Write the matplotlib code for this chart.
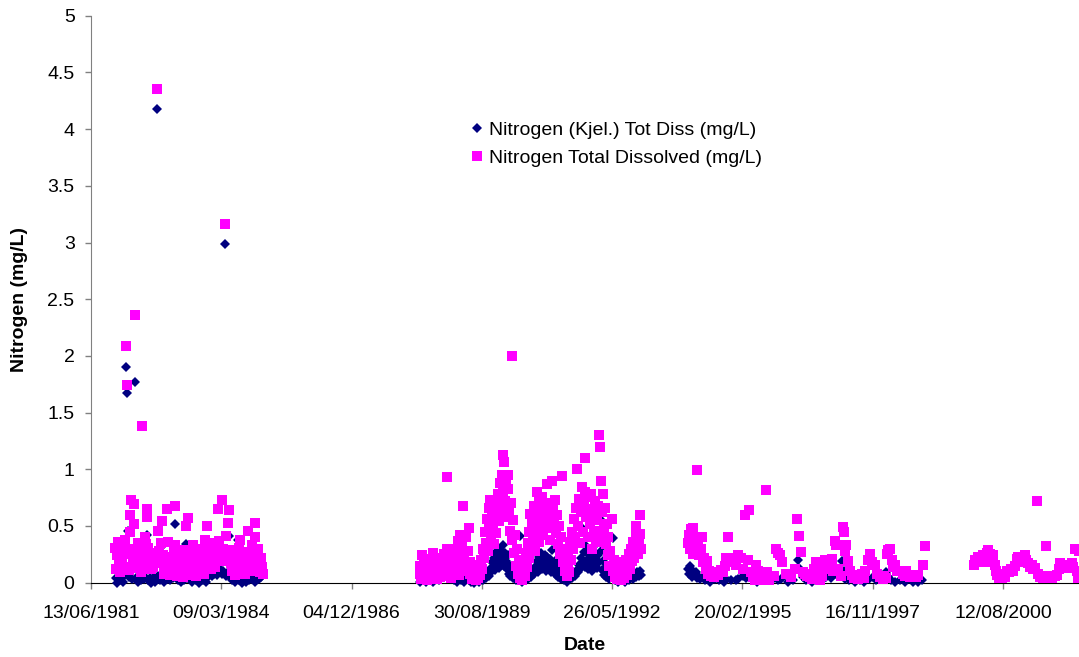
import numpy as np
import pandas as pd
import matplotlib
matplotlib.use('Agg')
import matplotlib.pyplot as plt

# samples as (decimal year, mg/L)
kjel_8185 = [
    (1981.97, 0.04), (1982.00, 0.00), (1982.03, 0.06), (1982.06, 0.02), (1982.09, 0.04), (1982.12, 0.01),
    (1982.15, 0.07), (1982.18, 1.90), (1982.20, 1.67), (1982.22, 0.46), (1982.25, 0.05), (1982.28, 0.12), (1982.31, 0.03), (1982.34, 0.25), (1982.37, 1.77), (1982.40, 0.04),
    (1982.43, 0.01), (1982.46, 0.06), (1982.49, 0.02), (1982.52, 0.09), (1982.55, 0.03), (1982.58, 0.05), (1982.62, 0.42), (1982.65, 0.02), (1982.68, 0.04), (1982.71, 0.00),
    (1982.74, 0.03), (1982.77, 0.05), (1982.80, 0.01), (1982.83, 4.18), (1982.86, 0.06), (1982.89, 0.02), (1982.92, 0.04), (1982.95, 0.33), (1982.98, 0.01), (1983.01, 0.07),
    (1983.04, 0.03), (1983.07, 0.05), (1983.10, 0.02), (1983.13, 0.08), (1983.16, 0.04), (1983.19, 0.10), (1983.21, 0.52), (1983.24, 0.05), (1983.27, 0.02), (1983.30, 0.04),
    (1983.33, 0.01), (1983.36, 0.03), (1983.39, 0.06), (1983.41, 0.02), (1983.44, 0.34), (1983.47, 0.04), (1983.50, 0.07), (1983.53, 0.03), (1983.56, 0.01), (1983.59, 0.30),
    (1983.62, 0.05), (1983.65, 0.02), (1983.68, 0.04), (1983.71, 0.00), (1983.74, 0.03), (1983.77, 0.06), (1983.80, 0.02), (1983.83, 0.05), (1983.86, 0.01), (1983.89, 0.04),
    (1983.92, 0.07), (1983.95, 0.09), (1983.98, 0.06), (1984.01, 0.10), (1984.04, 0.08), (1984.07, 0.11), (1984.10, 0.07), (1984.13, 0.09), (1984.16, 0.12), (1984.19, 0.08),
    (1984.22, 0.10), (1984.26, 2.99), (1984.28, 0.06), (1984.32, 0.09), (1984.35, 0.41), (1984.38, 0.04), (1984.41, 0.02), (1984.44, 0.05), (1984.47, 0.01), (1984.50, 0.03),
    (1984.53, 0.38), (1984.56, 0.02), (1984.59, 0.04), (1984.62, 0.00), (1984.65, 0.03), (1984.68, 0.05), (1984.71, 0.01), (1984.74, 0.04), (1984.77, 0.02), (1984.80, 0.06),
    (1984.83, 0.03), (1984.86, 0.05), (1984.89, 0.01), (1984.92, 0.04), (1984.95, 0.07), (1984.98, 0.03), (1985.01, 0.05), (1985.04, 0.08),
]

kjel_8893 = [
    (1988.36, 0.01), (1988.39, 0.04), (1988.42, 0.02), (1988.45, 0.06), (1988.48, 0.01), (1988.51, 0.03), (1988.54, 0.05), (1988.57, 0.02),
    (1988.60, 0.04), (1988.63, 0.01), (1988.66, 0.06), (1988.69, 0.03), (1988.72, 0.05), (1988.75, 0.02), (1988.78, 0.04), (1988.81, 0.07), (1988.84, 0.09), (1988.87, 0.06),
    (1988.90, 0.10), (1988.93, 0.08), (1988.96, 0.05), (1988.99, 0.07), (1989.02, 0.03), (1989.05, 0.05), (1989.08, 0.02), (1989.11, 0.04), (1989.14, 0.01), (1989.17, 0.03),
    (1989.20, 0.05), (1989.23, 0.02), (1989.26, 0.04), (1989.29, 0.01), (1989.32, 0.03), (1989.35, 0.05), (1989.38, 0.02), (1989.41, 0.04), (1989.44, 0.01), (1989.47, 0.03),
    (1989.50, 0.00), (1989.53, 0.02), (1989.56, 0.04), (1989.59, 0.01), (1989.62, 0.03), (1989.65, 0.05), (1989.68, 0.02), (1989.71, 0.06), (1989.74, 0.04), (1989.77, 0.08),
    (1989.80, 0.06), (1989.83, 0.12), (1989.85, 0.09), (1989.87, 0.18), (1989.89, 0.14), (1989.91, 0.22), (1989.93, 0.11), (1989.95, 0.27), (1989.97, 0.16), (1989.99, 0.20),
    (1990.01, 0.25), (1990.03, 0.13), (1990.05, 0.30), (1990.07, 0.18), (1990.09, 0.22), (1990.11, 0.33), (1990.12, 0.15), (1990.14, 0.26), (1990.16, 0.19), (1990.18, 0.12),
    (1990.20, 0.24), (1990.22, 0.08), (1990.24, 0.16), (1990.26, 0.06), (1990.28, 0.11), (1990.31, 0.04), (1990.34, 0.07), (1990.37, 0.02), (1990.40, 0.05), (1990.43, 0.03),
    (1990.46, 0.41), (1990.48, 0.06), (1990.51, 0.01), (1990.54, 0.04), (1990.57, 0.02), (1990.60, 0.05), (1990.63, 0.03), (1990.66, 0.07), (1990.69, 0.05), (1990.72, 0.10),
    (1990.75, 0.08), (1990.77, 0.14), (1990.79, 0.11), (1990.81, 0.19), (1990.83, 0.09), (1990.85, 0.23), (1990.87, 0.13), (1990.89, 0.17), (1990.91, 0.26), (1990.93, 0.12),
    (1990.95, 0.20), (1990.97, 0.15), (1990.99, 0.24), (1991.01, 0.10), (1991.03, 0.23), (1991.05, 0.18), (1991.07, 0.13), (1991.09, 0.21), (1991.11, 0.09), (1991.13, 0.29),
    (1991.15, 0.16), (1991.17, 0.11), (1991.19, 0.19), (1991.21, 0.07), (1991.23, 0.14), (1991.26, 0.05), (1991.29, 0.09), (1991.32, 0.03), (1991.35, 0.06), (1991.38, 0.02),
    (1991.41, 0.04), (1991.44, 0.01), (1991.47, 0.05), (1991.50, 0.03), (1991.53, 0.06), (1991.56, 0.04), (1991.59, 0.08), (1991.62, 0.06), (1991.65, 0.11), (1991.68, 0.09),
    (1991.70, 0.16), (1991.72, 0.12), (1991.74, 0.22), (1991.76, 0.48), (1991.78, 0.18), (1991.80, 0.27), (1991.82, 0.14), (1991.84, 0.32), (1991.86, 0.20), (1991.88, 0.25),
    (1991.90, 0.12), (1991.92, 0.29), (1991.94, 0.17), (1991.96, 0.22), (1991.98, 0.10), (1992.00, 0.26), (1992.02, 0.15), (1992.04, 0.20), (1992.06, 0.34), (1992.08, 0.13),
    (1992.10, 0.24), (1992.12, 0.18), (1992.14, 0.56), (1992.16, 0.28), (1992.18, 0.11), (1992.20, 0.19), (1992.22, 0.07), (1992.24, 0.13), (1992.27, 0.05), (1992.30, 0.09),
    (1992.33, 0.03), (1992.36, 0.06), (1992.42, 0.39), (1992.45, 0.02), (1992.48, 0.04), (1992.51, 0.01), (1992.54, 0.03), (1992.57, 0.05), (1992.60, 0.02), (1992.63, 0.04),
    (1992.66, 0.01), (1992.69, 0.03), (1992.72, 0.05), (1992.75, 0.02), (1992.78, 0.04), (1992.81, 0.06), (1992.84, 0.03), (1992.87, 0.07), (1992.90, 0.05), (1992.93, 0.09),
    (1992.96, 0.06), (1992.99, 0.10), (1993.01, 0.07),
]

kjel_9498 = [
    (1994.00, 0.12), (1994.02, 0.08), (1994.04, 0.15), (1994.06, 0.10), (1994.08, 0.05), (1994.10, 0.10), (1994.12, 0.07), (1994.15, 0.09), (1994.18, 0.04), (1994.21, 0.06),
    (1994.25, 0.03), (1994.30, 0.05), (1994.35, 0.02), (1994.40, 0.04), (1994.45, 0.01), (1994.55, 0.03), (1994.65, 0.02), (1994.75, 0.01), (1994.80, 0.03), (1994.90, 0.02),
    (1995.00, 0.02), (1995.05, 0.03), (1995.15, 0.06), (1995.22, 0.04), (1995.26, 0.20), (1995.35, 0.06), (1995.45, 0.01), (1995.55, 0.02), (1995.62, 0.04), (1995.75, 0.02),
    (1995.89, 0.02), (1995.95, 0.03), (1996.10, 0.01), (1996.20, 0.02), (1996.31, 0.20), (1996.33, 0.13), (1996.40, 0.05), (1996.48, 0.02), (1996.60, 0.01), (1996.70, 0.03),
    (1996.80, 0.02), (1996.90, 0.05), (1997.00, 0.04), (1997.08, 0.14), (1997.15, 0.06), (1997.22, 0.19), (1997.26, 0.10), (1997.30, 0.03), (1997.38, 0.02), (1997.50, 0.01),
    (1997.60, 0.02), (1997.70, 0.01), (1997.80, 0.03), (1997.88, 0.05), (1997.95, 0.02), (1998.05, 0.03), (1998.16, 0.09), (1998.20, 0.05), (1998.25, 0.02), (1998.35, 0.01),
    (1998.45, 0.02), (1998.55, 0.01), (1998.72, 0.01), (1998.83, 0.01), (1998.90, 0.02),
]

tdn_8185 = [
    (1981.95, 0.31), (1981.97, 0.12), (1981.99, 0.24), (1982.02, 0.36), (1982.04, 0.17),
    (1982.06, 0.09), (1982.08, 0.28), (1982.10, 0.20), (1982.12, 0.14), (1982.14, 0.33), (1982.16, 0.38), (1982.18, 2.09), (1982.20, 1.74), (1982.22, 0.25), (1982.24, 0.11),
    (1982.26, 0.45), (1982.27, 0.60), (1982.28, 0.73), (1982.30, 0.30), (1982.32, 0.18), (1982.34, 0.52), (1982.36, 0.69), (1982.37, 2.36), (1982.39, 0.21), (1982.41, 0.13),
    (1982.43, 0.35), (1982.45, 0.26), (1982.47, 0.16), (1982.49, 0.09), (1982.52, 1.38), (1982.54, 0.20), (1982.56, 0.29), (1982.58, 0.40), (1982.60, 0.34), (1982.62, 0.65),
    (1982.63, 0.58), (1982.65, 0.31), (1982.67, 0.22), (1982.69, 0.15), (1982.71, 0.12), (1982.73, 0.19), (1982.75, 0.14), (1982.77, 0.26), (1982.79, 0.17), (1982.81, 0.21),
    (1982.83, 4.35), (1982.85, 0.46), (1982.87, 0.28), (1982.89, 0.18), (1982.91, 0.35), (1982.93, 0.54), (1982.95, 0.24), (1982.97, 0.13), (1982.99, 0.08), (1983.01, 0.20),
    (1983.04, 0.65), (1983.06, 0.36), (1983.08, 0.17), (1983.10, 0.07), (1983.12, 0.23), (1983.14, 0.14), (1983.16, 0.09), (1983.18, 0.30), (1983.21, 0.68), (1983.22, 0.33),
    (1983.24, 0.18), (1983.26, 0.06), (1983.28, 0.11), (1983.30, 0.25), (1983.32, 0.08), (1983.35, 0.16), (1983.37, 0.05), (1983.39, 0.22), (1983.42, 0.29), (1983.44, 0.50),
    (1983.46, 0.21), (1983.49, 0.57), (1983.51, 0.27), (1983.53, 0.12), (1983.55, 0.07), (1983.57, 0.19), (1983.59, 0.33), (1983.61, 0.24), (1983.63, 0.10), (1983.66, 0.06),
    (1983.68, 0.15), (1983.70, 0.26), (1983.72, 0.09), (1983.74, 0.18), (1983.76, 0.30), (1983.78, 0.13), (1983.80, 0.22), (1983.82, 0.08), (1983.84, 0.38), (1983.86, 0.27),
    (1983.88, 0.50), (1983.90, 0.16), (1983.92, 0.31), (1983.94, 0.20), (1983.96, 0.12), (1983.98, 0.25), (1984.00, 0.35), (1984.02, 0.18), (1984.04, 0.28), (1984.06, 0.14),
    (1984.08, 0.32), (1984.10, 0.22), (1984.12, 0.65), (1984.14, 0.37), (1984.16, 0.26), (1984.19, 0.73), (1984.21, 0.30), (1984.23, 0.19), (1984.26, 3.16), (1984.28, 0.41),
    (1984.30, 0.24), (1984.33, 0.53), (1984.35, 0.64), (1984.37, 0.29), (1984.39, 0.17), (1984.41, 0.10), (1984.43, 0.21), (1984.45, 0.13), (1984.47, 0.07), (1984.49, 0.18),
    (1984.51, 0.26), (1984.53, 0.11), (1984.55, 0.31), (1984.58, 0.38), (1984.60, 0.20), (1984.62, 0.09), (1984.64, 0.15), (1984.66, 0.23), (1984.68, 0.08), (1984.70, 0.12),
    (1984.72, 0.27), (1984.75, 0.46), (1984.77, 0.19), (1984.79, 0.10), (1984.81, 0.24), (1984.83, 0.33), (1984.85, 0.16), (1984.87, 0.28), (1984.89, 0.53), (1984.90, 0.40),
    (1984.92, 0.21), (1984.94, 0.12), (1984.96, 0.30), (1984.98, 0.17), (1985.00, 0.09), (1985.02, 0.22), (1985.04, 0.14), (1985.06, 0.08),
]

tdn_8893 = [
    (1988.35, 0.08), (1988.37, 0.15), (1988.39, 0.03), (1988.41, 0.24), (1988.43, 0.10), (1988.45, 0.18), (1988.47, 0.06),
    (1988.49, 0.13), (1988.51, 0.02), (1988.53, 0.21), (1988.55, 0.09), (1988.57, 0.16), (1988.59, 0.04), (1988.61, 0.11), (1988.63, 0.26), (1988.65, 0.07), (1988.67, 0.19),
    (1988.69, 0.14), (1988.71, 0.03), (1988.73, 0.22), (1988.75, 0.10), (1988.77, 0.17), (1988.79, 0.05), (1988.81, 0.12), (1988.83, 0.20), (1988.85, 0.08), (1988.87, 0.25),
    (1988.89, 0.15), (1988.92, 0.93), (1988.93, 0.30), (1988.95, 0.06), (1988.97, 0.18), (1988.99, 0.11), (1989.01, 0.04), (1989.03, 0.14), (1989.05, 0.23), (1989.07, 0.09),
    (1989.09, 0.19), (1989.11, 0.30), (1989.13, 0.12), (1989.15, 0.37), (1989.17, 0.07), (1989.19, 0.26), (1989.21, 0.42), (1989.23, 0.16), (1989.25, 0.32), (1989.27, 0.68),
    (1989.29, 0.21), (1989.31, 0.10), (1989.33, 0.40), (1989.36, 0.28), (1989.38, 0.48), (1989.40, 0.18), (1989.42, 0.08), (1989.44, 0.14), (1989.46, 0.03), (1989.48, 0.11),
    (1989.50, 0.05), (1989.52, 0.16), (1989.54, 0.02), (1989.56, 0.09), (1989.58, 0.04), (1989.60, 0.13), (1989.62, 0.07), (1989.64, 0.20), (1989.66, 0.12), (1989.68, 0.30),
    (1989.70, 0.22), (1989.72, 0.45), (1989.74, 0.35), (1989.76, 0.56), (1989.78, 0.28), (1989.80, 0.66), (1989.82, 0.48), (1989.84, 0.73), (1989.86, 0.40), (1989.88, 0.60),
    (1989.90, 0.52), (1989.92, 0.34), (1989.94, 0.70), (1989.96, 0.44), (1989.98, 0.62), (1990.00, 0.78), (1990.02, 0.54), (1990.04, 0.88), (1990.06, 0.66), (1990.08, 0.95),
    (1990.10, 0.80), (1990.11, 1.13), (1990.12, 1.06), (1990.14, 0.72), (1990.16, 0.90), (1990.18, 0.58), (1990.20, 0.83), (1990.21, 0.95), (1990.23, 0.64), (1990.25, 0.46),
    (1990.27, 0.70), (1990.29, 2.00), (1990.30, 0.38), (1990.32, 0.55), (1990.34, 0.26), (1990.36, 0.42), (1990.38, 0.15), (1990.40, 0.30), (1990.42, 0.08), (1990.44, 0.20),
    (1990.46, 0.04), (1990.48, 0.12), (1990.50, 0.02), (1990.52, 0.09), (1990.54, 0.18), (1990.56, 0.06), (1990.58, 0.26), (1990.60, 0.14), (1990.62, 0.35), (1990.64, 0.22),
    (1990.66, 0.45), (1990.68, 0.61), (1990.70, 0.32), (1990.72, 0.52), (1990.74, 0.40), (1990.76, 0.68), (1990.78, 0.28), (1990.80, 0.58), (1990.81, 0.80), (1990.83, 0.46),
    (1990.85, 0.72), (1990.87, 0.36), (1990.89, 0.62), (1990.91, 0.50), (1990.93, 0.76), (1990.95, 0.42), (1990.97, 0.66), (1990.99, 0.55), (1991.02, 0.87), (1991.04, 0.60),
    (1991.06, 0.48), (1991.08, 0.70), (1991.10, 0.38), (1991.13, 0.90), (1991.15, 0.64), (1991.17, 0.52), (1991.20, 0.73), (1991.22, 0.44), (1991.24, 0.60), (1991.26, 0.34),
    (1991.28, 0.50), (1991.30, 0.25), (1991.32, 0.40), (1991.34, 0.94), (1991.36, 0.18), (1991.38, 0.30), (1991.40, 0.10), (1991.42, 0.22), (1991.44, 0.06), (1991.46, 0.15),
    (1991.48, 0.28), (1991.50, 0.09), (1991.52, 0.36), (1991.54, 0.20), (1991.56, 0.45), (1991.58, 0.30), (1991.60, 0.56), (1991.62, 0.40), (1991.64, 0.66), (1991.66, 1.00),
    (1991.68, 0.50), (1991.70, 0.74), (1991.72, 0.35), (1991.74, 0.62), (1991.76, 0.84), (1991.78, 0.45), (1991.80, 0.70), (1991.82, 0.80), (1991.83, 1.10), (1991.85, 0.58),
    (1991.87, 0.76), (1991.89, 0.40), (1991.91, 0.65), (1991.93, 0.52), (1991.95, 0.78), (1991.97, 0.30), (1991.99, 0.60), (1992.01, 0.46), (1992.03, 0.72), (1992.05, 0.36),
    (1992.07, 0.55), (1992.09, 0.68), (1992.11, 0.42), (1992.13, 1.30), (1992.14, 1.20), (1992.16, 0.90), (1992.18, 0.62), (1992.20, 0.78), (1992.22, 0.48), (1992.24, 0.66),
    (1992.26, 0.34), (1992.28, 0.52), (1992.30, 0.24), (1992.32, 0.40), (1992.34, 0.15), (1992.36, 0.28), (1992.39, 0.56), (1992.41, 0.10), (1992.43, 0.20), (1992.45, 0.05),
    (1992.47, 0.14), (1992.49, 0.03), (1992.51, 0.09), (1992.53, 0.18), (1992.55, 0.06), (1992.57, 0.12), (1992.59, 0.02), (1992.61, 0.08), (1992.63, 0.15), (1992.65, 0.04),
    (1992.67, 0.10), (1992.69, 0.20), (1992.71, 0.07), (1992.73, 0.16), (1992.75, 0.25), (1992.77, 0.12), (1992.79, 0.30), (1992.81, 0.19), (1992.83, 0.36), (1992.85, 0.22),
    (1992.87, 0.28), (1992.89, 0.42), (1992.90, 0.50), (1992.92, 0.33), (1992.94, 0.25), (1992.96, 0.38), (1992.98, 0.60), (1992.99, 0.43), (1993.01, 0.30),
]

tdn_9498 = [
    (1993.99, 0.35), (1994.01, 0.42), (1994.03, 0.30), (1994.05, 0.47), (1994.07, 0.38), (1994.09, 0.25), (1994.10, 0.48), (1994.12, 0.36), (1994.14, 0.28), (1994.16, 0.40),
    (1994.19, 0.99), (1994.21, 0.33), (1994.23, 0.24), (1994.26, 0.30), (1994.28, 0.40), (1994.30, 0.18), (1994.33, 0.22), (1994.36, 0.12), (1994.38, 0.19), (1994.41, 0.08),
    (1994.44, 0.10), (1994.47, 0.06), (1994.50, 0.09), (1994.54, 0.05), (1994.58, 0.08), (1994.63, 0.07), (1994.68, 0.11), (1994.72, 0.09), (1994.77, 0.15), (1994.80, 0.22),
    (1994.84, 0.40), (1994.88, 0.18), (1994.91, 0.22), (1994.95, 0.20), (1995.00, 0.16), (1995.05, 0.24), (1995.10, 0.22), (1995.15, 0.12), (1995.19, 0.60), (1995.25, 0.20),
    (1995.28, 0.64), (1995.32, 0.09), (1995.36, 0.05), (1995.40, 0.02), (1995.43, 0.16), (1995.46, 0.10), (1995.50, 0.04), (1995.55, 0.02), (1995.60, 0.05), (1995.64, 0.82),
    (1995.66, 0.09), (1995.70, 0.02), (1995.80, 0.06), (1995.85, 0.30), (1995.88, 0.26), (1995.92, 0.24), (1995.96, 0.18), (1996.05, 0.08), (1996.15, 0.05), (1996.25, 0.12),
    (1996.29, 0.56), (1996.33, 0.41), (1996.36, 0.27), (1996.40, 0.09), (1996.45, 0.08), (1996.50, 0.06), (1996.55, 0.05), (1996.60, 0.03), (1996.64, 0.12), (1996.69, 0.18),
    (1996.72, 0.10), (1996.76, 0.02), (1996.80, 0.06), (1996.84, 0.14), (1996.87, 0.20), (1996.91, 0.12), (1996.95, 0.17), (1997.01, 0.21), (1997.04, 0.10), (1997.08, 0.37),
    (1997.11, 0.33), (1997.15, 0.12), (1997.20, 0.06), (1997.24, 0.49), (1997.26, 0.45), (1997.29, 0.28), (1997.32, 0.33), (1997.36, 0.19), (1997.40, 0.10), (1997.43, 0.07),
    (1997.47, 0.04), (1997.52, 0.06), (1997.56, 0.03), (1997.60, 0.05), (1997.64, 0.08), (1997.68, 0.04), (1997.72, 0.10), (1997.78, 0.20), (1997.82, 0.25), (1997.86, 0.18),
    (1997.92, 0.16), (1997.97, 0.08), (1998.02, 0.05), (1998.08, 0.03), (1998.12, 0.06), (1998.16, 0.04), (1998.18, 0.25), (1998.20, 0.29), (1998.23, 0.30), (1998.27, 0.20),
    (1998.30, 0.14), (1998.34, 0.16), (1998.38, 0.10), (1998.44, 0.10), (1998.50, 0.08), (1998.55, 0.06), (1998.58, 0.10), (1998.65, 0.05), (1998.72, 0.07), (1998.78, 0.05),
    (1998.83, 0.07), (1998.93, 0.16), (1998.97, 0.32),
]

tdn_0002 = [
    (2000.00, 0.16), (2000.02, 0.20), (2000.06, 0.18), (2000.09, 0.23), (2000.13, 0.21), (2000.19, 0.24), (2000.23, 0.18), (2000.27, 0.26), (2000.30, 0.29), (2000.34, 0.25),
    (2000.38, 0.20), (2000.41, 0.24), (2000.44, 0.16), (2000.46, 0.10), (2000.48, 0.07), (2000.52, 0.04), (2000.55, 0.06), (2000.58, 0.04), (2000.62, 0.08), (2000.66, 0.05),
    (2000.70, 0.10), (2000.74, 0.09), (2000.78, 0.12), (2000.82, 0.10), (2000.86, 0.15), (2000.90, 0.21), (2000.93, 0.23), (2000.97, 0.22), (2001.01, 0.18), (2001.04, 0.23),
    (2001.07, 0.24), (2001.10, 0.20), (2001.14, 0.17), (2001.18, 0.14), (2001.21, 0.16), (2001.25, 0.12), (2001.29, 0.13), (2001.32, 0.72), (2001.35, 0.08), (2001.39, 0.05),
    (2001.42, 0.06), (2001.46, 0.04), (2001.51, 0.32), (2001.55, 0.06), (2001.60, 0.05), (2001.65, 0.04), (2001.70, 0.06), (2001.74, 0.07), (2001.78, 0.12), (2001.81, 0.17),
    (2001.86, 0.14), (2001.91, 0.15), (2001.96, 0.13), (2002.01, 0.16), (2002.05, 0.17), (2002.09, 0.14), (2002.12, 0.30), (2002.16, 0.10), (2002.19, 0.04), (2002.21, 0.28),
]

x_tick_labels = ['13/06/1981', '09/03/1984', '04/12/1986', '30/08/1989',
                 '26/05/1992', '20/02/1995', '16/11/1997', '12/08/2000']
y_ticks = [0, 0.5, 1, 1.5, 2, 2.5, 3, 3.5, 4, 4.5, 5]
y_tick_labels = ['0', '0.5', '1', '1.5', '2', '2.5', '3', '3.5', '4', '4.5', '5']
series_names = ['Nitrogen (Kjel.) Tot Diss (mg/L)', 'Nitrogen Total Dissolved (mg/L)']


def split(pairs):
    yrs = np.array([p[0] for p in pairs])
    vals = np.array([p[1] for p in pairs])
    dates = pd.Timestamp('1981-01-01') + pd.to_timedelta((yrs - 1981) * 365.25, unit='D')
    return dates.to_numpy(), vals


kx, ky = split(kjel_8185 + kjel_8893 + kjel_9498)
tx, ty = split(tdn_8185 + tdn_8893 + tdn_9498 + tdn_0002)

plt.rcParams['font.family'] = ['Liberation Sans', 'DejaVu Sans']
plt.rcParams['font.size'] = 14

fig = plt.figure(figsize=(10.79, 6.57), dpi=100)
ax = fig.add_axes([91 / 1079, (657 - 582.7) / 657, 988 / 1079, 567 / 657])

ax.plot(kx, ky, linestyle='none', marker='D', ms=4.9, mew=0, color='#000080',
        clip_on=False, zorder=3, label=series_names[0])
ax.plot(tx, ty, linestyle='none', marker='s', ms=7.2, mew=0, color='#FF00FF',
        clip_on=False, zorder=3, label=series_names[1])

# excel-style axis: ticks every 1000 days from the first date
start = np.datetime64('1981-06-13')
ticks = [start + np.timedelta64(1000 * k, 'D') for k in range(len(x_tick_labels))]
ax.set_xlim(start, start + np.timedelta64(7583, 'D'))
ax.set_xticks(ticks)
ax.set_xticklabels(x_tick_labels)
ax.set_ylim(0, 5)
ax.set_yticks(y_ticks)
ax.set_yticklabels(y_tick_labels)

for s in ['top', 'right']:
    ax.spines[s].set_visible(False)
ax.spines['left'].set_color('#808080')
ax.spines['bottom'].set_color('black')
ax.tick_params(axis='y', length=4.3, width=1, color='#808080', pad=7.5)
ax.tick_params(axis='x', length=4.3, width=1, color='#808080', pad=12)

ax.set_xlabel('Date', fontweight='bold')
ax.set_ylabel('Nitrogen (mg/L)', fontweight='bold')
ax.xaxis.set_label_coords(0.5, -0.096)
ax.yaxis.set_label_coords(-0.064, 0.5)

ax.legend(loc='upper left', bbox_to_anchor=(470 / 1079, 1 - 121 / 657),
          bbox_transform=fig.transFigure, frameon=False, handlelength=0.7,
          handletextpad=0.3, labelspacing=0.55, borderpad=0, borderaxespad=0)

fig.savefig('out.png', dpi=100)
